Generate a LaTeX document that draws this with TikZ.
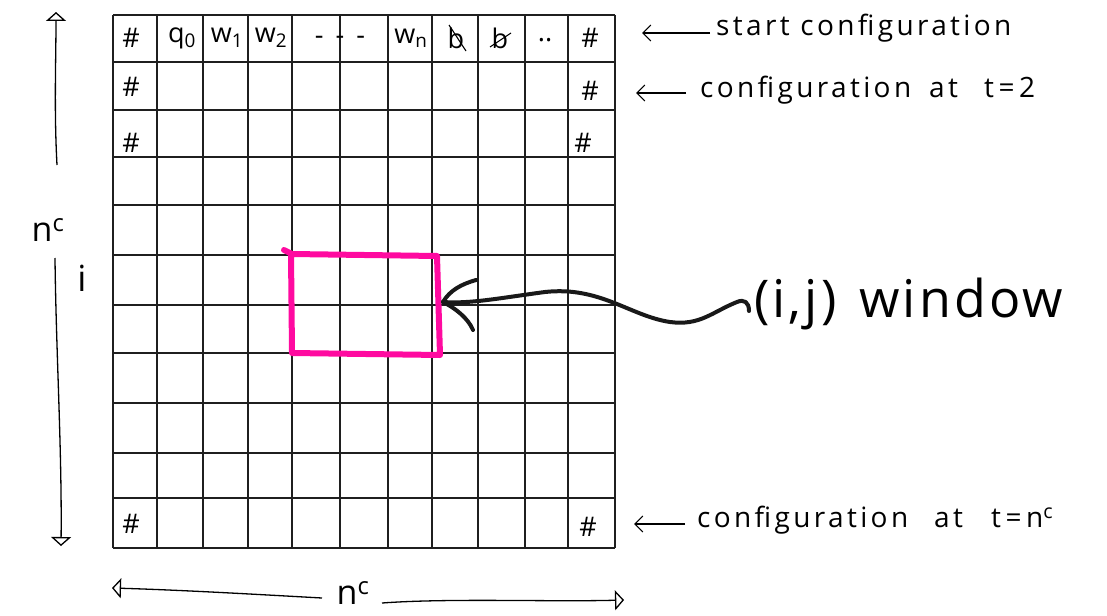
\documentclass[tikz,border=0pt]{standalone}
\usepackage{fontspec}
\setmainfont{Open Sans}
\usetikzlibrary{arrows.meta}
\definecolor{winpink}{HTML}{FF0AA0}
\begin{document}
\begin{tikzpicture}[x=1pt,y=-1pt,
  gridline/.style={line width=1.7pt, draw=black!88},
  cell/.style={font=\fontsize{27}{29}\selectfont, inner sep=0pt},
  lbl/.style={font=\fontsize{28}{32}\selectfont\addfontfeature{LetterSpace=12}, anchor=west, inner sep=0pt},
  barb/.style={line width=1.1pt, -{Straight Barb[length=8pt,width=16pt]}},
  tri/.style={line width=1.3pt, -{Triangle[open,length=9pt,width=20pt,line width=1.3pt]}},
  wave/.style={line width=4pt, line cap=round, line join=round, draw=black!90}
]
\useasboundingbox (0,0) rectangle (1107,615);

% grid
\foreach \x in {113,157,203,248,292,340,388,432,478,525,568,615}
  \draw[gridline] (\x,15) -- (\x,548);
\foreach \y in {15,62,110,157,205,255,305,353,403,453,498,548}
  \draw[gridline] (113,\y) -- (615,\y);

% first row contents
\node[cell] (h1) at (131,38) {\#};
\node[cell] (q0) at (182,38) {q\textsubscript{0}};
\node[cell] (w1) at (227,38) {w\textsubscript{1}};
\node[cell] (w2) at (271,38) {w\textsubscript{2}};
\node[cell] (dots) at (340,40) {-\hspace{12pt}-\hspace{12pt}-};
\node[cell] (wn) at (411,38) {w\textsubscript{n}};
\node[cell] (b1) at (456,38) {b};
\draw[line width=1.1pt] ([shift={(-7,-13)}]b1.center) -- ([shift={(10,13)}]b1.center);
\node[cell] (b2) at (500,38) {b};
\draw[line width=1.1pt] ([shift={(-10,9)}]b2.center) -- ([shift={(11,-5)}]b2.center);
\node[cell] (dd) at (545,40) {..};
\node[cell] (h2) at (590,38) {\#};
% # columns
\node[cell] (h3) at (131,87) {\#};
\node[cell] (h4) at (590,91) {\#};
\node[cell] (h5) at (131,143) {\#};
\node[cell] (h6) at (583,143) {\#};
\node[cell] (h7) at (131,524) {\#};
\node[cell] (h8) at (588,527) {\#};

% right labels
\node[lbl] (s1) at (716,28) {start configuration};
\coordinate (a1) at (642,33);
\draw[barb] ([xshift=-6pt]s1.west |- a1) -- (a1);
\node[lbl] (s2) at (700,90) {configuration\hspace{18pt}at\hspace{26pt}t\,=\,2};
\coordinate (a2) at (636,93);
\draw[barb] ([xshift=-14pt]s2.west |- a2) -- (a2);
\node[lbl] (s3) at (697,520) {configuration\hspace{26pt}at\hspace{28pt}t\,=\,n\textsuperscript{c}};
\coordinate (a3) at (634,524);
\draw[barb] ([xshift=-12pt]s3.west |- a3) -- (a3);

% window label
\node[font=\fontsize{52}{56}\selectfont\addfontfeature{LetterSpace=6}, anchor=west, inner sep=0pt] (win) at (754,304) {(i,j)\hspace{6pt} window};

% pink window
\draw[winpink, line width=6pt, line cap=round, line join=round]
  (284,250) -- (292,254) -- (437,256) -- (440,355) -- (292,353) -- (291,254);

% wavy arrow
\coordinate (tip) at (443,302);
\draw[wave] (749,311) .. controls (749,302) and (744,299) .. (737,302)
  .. controls (712,312) and (700,326) .. (670,322)
  .. controls (630,316) and (600,286) .. (545,292)
  .. controls (500,298) and (470,304) .. (tip);
\draw[wave] (tip) .. controls (450,290) and (462,284) .. (476,280);
\draw[wave] (tip) .. controls (455,308) and (468,318) .. (473,330);

% left vertical n^c and i
\node[font=\fontsize{34}{36}\selectfont, inner sep=0pt] (nv) at (48,230) {n\textsuperscript{c}};
\coordinate (vt) at (56,12);
\coordinate (v1) at (57,165);
\coordinate (v2) at (55,258);
\coordinate (vb) at (61,546);
\draw[tri] (v1) .. controls (54,110) and (56,60) .. (vt);
\draw[tri] (v2) .. controls (56,350) and (62,450) .. (vb);
\node[font=\fontsize{36}{38}\selectfont, inner sep=0pt] (iv) at (82,278) {i};

% bottom horizontal n^c
\node[font=\fontsize{34}{36}\selectfont, inner sep=0pt] (nh) at (353,593) {n\textsuperscript{c}};
\coordinate (hl) at (112,588);
\coordinate (h1e) at (322,598);
\coordinate (h2s) at (382,603);
\coordinate (hr) at (624,600);
\draw[tri] (h1e) .. controls (250,594) and (180,590) .. (hl);
\draw[tri] (h2s) .. controls (450,598) and (550,602) .. (hr);
\end{tikzpicture}
\end{document}
